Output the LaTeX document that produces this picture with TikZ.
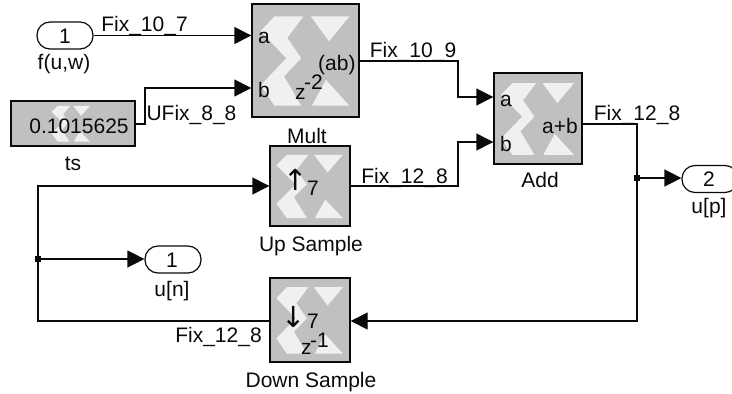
\documentclass[tikz,border=0pt]{standalone}
\usepackage{fontspec}
\setmainfont{Liberation Sans}
\newfontfamily\arrowfont{DejaVu Sans}
\usetikzlibrary{arrows.meta}
\definecolor{blockgray}{HTML}{C0C0C0}
\definecolor{logowhite}{HTML}{F0F0F0}
\definecolor{ink}{HTML}{0A0A0A}
\newcommand{\xlogo}[4]{%
  \begin{scope}[shift={(#1,#2)},x=#3pt,y=-#4pt]
    \fill[logowhite] (0.21,0.11)--(0.48,0.11)--(0.33,0.30)--(0.46,0.48)--(0.30,0.64)--(0.46,0.90)--(0.21,0.90)--(0.08,0.72)--(0.32,0.48)--(0.08,0.24)--cycle;
    \fill[logowhite] (0.55,0.11)--(0.91,0.11)--(0.72,0.33)--cycle;
    \fill[logowhite] (0.56,0.90)--(0.91,0.90)--(0.69,0.67)--cycle;
  \end{scope}}
\tikzset{
  blockbox/.style={draw=ink,fill=blockgray,line width=1.4pt,inner sep=0pt,minimum width=#1},
  portbox/.style={draw=ink,fill=white,line width=1.2pt,rounded corners=13pt,inner sep=0pt,minimum width=56pt,minimum height=27pt},
  wire/.style={draw=ink,line width=1.4pt},
  arrowwire/.style={wire,-{Triangle[length=17pt,width=17pt]}},
  junction/.style={fill=ink,inner sep=0pt,minimum size=6pt},
  lbl/.style={inner sep=0pt,anchor=base,text=ink,font=\fontsize{21}{21}\selectfont},
  arrowlbl/.style={inner sep=0pt,anchor=center,text=ink,font=\fontsize{29}{29}\selectfont\arrowfont}
}
\begin{document}
\begin{tikzpicture}[x=1pt,y=-1pt]
\useasboundingbox (0,0) rectangle (732,394);
% blocks
\node[blockbox=107pt,minimum height=113pt] (mult) at (305.5,60.5) {};
\node[blockbox=124pt,minimum height=45pt] (ts) at (73,123.5) {};
\node[blockbox=80pt,minimum height=80pt] (up) at (310,186) {};
\node[blockbox=80pt,minimum height=84pt] (down) at (310,320) {};
\node[blockbox=88pt,minimum height=91pt] (add) at (538,118.5) {};
\node[portbox] (inport) at (65,35.5) {};
\node[portbox] (outn) at (173,259.5) {};
\node[portbox] (outp) at (710,179) {};
% logos
\xlogo{252}{4}{107}{113}
\xlogo{48}{101}{46}{45}
\xlogo{270}{146}{80}{80}
\xlogo{270}{278}{80}{84}
\xlogo{494}{73}{88}{91}
% junctions and corners
\node[junction] (jadd) at (637,178) {};
\node[junction] (jfb) at (38,259) {};
\coordinate (bturn) at (145,124);
\coordinate (bturnb) at (145,88);
\coordinate (m1) at (458,61);
\coordinate (m2) at (458,97);
\coordinate (u1) at (458,186);
\coordinate (u2) at (458,142);
\coordinate (a1) at (637,124);
\coordinate (a2) at (637,321);
\coordinate (f1) at (38,321);
\coordinate (f2) at (38,186);
% wires
\draw[arrowwire] (inport.east) -- (mult.west |- inport.east);
\draw[arrowwire] (ts.east |- bturn) -- (bturn) -- (bturnb) -- (mult.west |- bturnb);
\draw[arrowwire] (mult.east |- m1) -- (m1) -- (m2) -- (add.west |- m2);
\draw[arrowwire] (up.east |- u1) -- (u1) -- (u2) -- (add.west |- u2);
\draw[arrowwire] (add.east |- a1) -- (a1) -- (a2) -- (down.east |- a2);
\draw[arrowwire] (jadd.center) -- (outp.west |- jadd);
\draw[arrowwire] (down.west |- f1) -- (f1) -- (f2) -- (up.west |- f2);
\draw[arrowwire] (jfb.center) -- (outn.west |- jfb);
% labels
\node[lbl] (l1) at (144.5,31) {Fix\_10\_7};
\node[lbl] (l2) at (64,69) {f(u,w)};
\node[lbl] (l3) at (65,43) {1};
\node[lbl] (l4) at (191.5,120) {UFix\_8\_8};
\node[lbl] (l5) at (79,133) {0.1015625};
\node[lbl] (l6) at (73,170) {ts};
\node[lbl,anchor=base west] (l7) at (258,43) {a};
\node[lbl,anchor=base west] (l8) at (258,97) {b};
\node[lbl,anchor=base west] (l9) at (318,70) {(ab)};
\node[lbl,anchor=base west] (l10) at (295,99) {z\kern-1.5pt\raisebox{10pt}{-2}};
\node[lbl] (l11) at (307,143) {Mult};
\node[lbl] (l12) at (413,57) {Fix\_10\_9};
\node[lbl] (l13) at (404.5,183) {Fix\_12\_8};
\node[lbl] (l14) at (637,120) {Fix\_12\_8};
\node[lbl,anchor=base west] (l15) at (500,106) {a};
\node[lbl,anchor=base west] (l16) at (500,151) {b};
\node[lbl,anchor=base east] (l17) at (578,133) {a+b};
\node[lbl] (l18) at (540,187) {Add};
\node[lbl] (l19) at (709,186) {2};
\node[lbl] (l20) at (709,213) {u[p]};
\node[arrowlbl] (l21) at (296,180) {↑};
\node[lbl] (l22) at (313,195) {7};
\node[lbl] (l23) at (311,251) {Up Sample};
\node[arrowlbl] (l24) at (294,317) {↓};
\node[lbl] (l25) at (313,328) {7};
\node[lbl,anchor=base west] (l26) at (301,354) {z\kern-1.5pt\raisebox{7pt}{-1}};
\node[lbl] (l27) at (311,387) {Down Sample};
\node[lbl] (l28) at (218.5,342) {Fix\_12\_8};
\node[lbl] (l29) at (172,267) {1};
\node[lbl] (l30) at (172,296) {u[n]};
\end{tikzpicture}
\end{document}
